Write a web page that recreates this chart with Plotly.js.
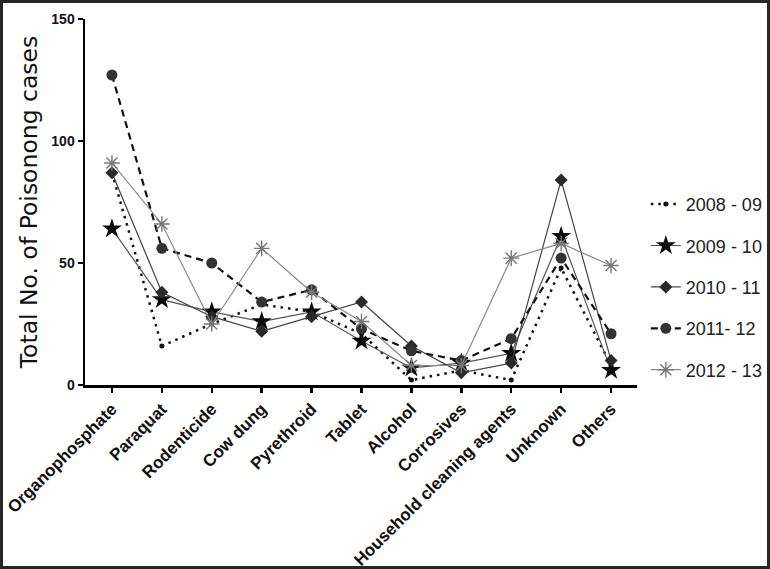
<!DOCTYPE html>
<html>
<head>
<meta charset="utf-8">
<script src="https://cdn.plot.ly/plotly-3.0.1.min.js"></script>
<style>
html,body{margin:0;padding:0;background:#fff;}
#chart{position:absolute;left:0;top:0;width:770px;height:569px;}
#frame{position:absolute;left:0;top:0;width:770px;height:569px;box-sizing:border-box;border:3px solid #262626;pointer-events:none;}
</style>
</head>
<body>
<div id="chart"></div>
<div id="frame"></div>
<script>
var categories = ['Organophosphate','Paraquat','Rodenticide','Cow dung','Pyrethroid','Tablet','Alcohol','Corrosives','Household cleaning agents','Unknown','Others'];
var seriesNames = ['2008 - 09','2009 - 10','2010 - 11','2011- 12','2012 - 13'];
var y2008_09 = [87,16,25,33,30,21,2,6,2,48,8];
var y2009_10 = [64,35,30,26,30,18,7,9,13,61,6];
var y2010_11 = [87,38,28,22,28,34,16,5,9,84,10];
var y2011_12 = [127,56,50,34,39,23,14,10,19,52,21];
var y2012_13 = [91,66,25,56,38,26,8,8,52,58,49];
var yTicks = [0,50,100,150];

var traces = [
  {name: seriesNames[0], y: y2008_09, legendgroup:'a',
   line:{color:'#111', width:2.5, dash:'2.5px,5px'},
   marker:{symbol:'circle', size:5, color:'#111'}},
  {name: seriesNames[1], y: y2009_10, legendgroup:'b',
   line:{color:'#555', width:1.2},
   marker:{symbol:'star', size:15, color:'#0a0a0a'}},
  {name: seriesNames[2], y: y2010_11, legendgroup:'c',
   line:{color:'#444', width:1.2},
   marker:{symbol:'diamond', size:10, color:'#2a2a2a'}},
  {name: seriesNames[3], y: y2011_12, legendgroup:'d',
   line:{color:'#111', width:2.2, dash:'7px,5px'},
   marker:{symbol:'circle', size:11, color:'#333'}},
  {name: seriesNames[4], y: y2012_13, legendgroup:'e',
   line:{color:'#888', width:1.2},
   marker:{symbol:'asterisk-open', size:13, color:'#777', line:{color:'#808080', width:1.4}}}
];
traces.forEach(function(t){ t.x = categories; t.type='scatter'; t.mode='lines+markers'; });

var layout = {
  width:770, height:569,
  margin:{l:85, r:133, t:19, b:184, autoexpand:false},
  paper_bgcolor:'#fff', plot_bgcolor:'#fff',
  showlegend:true,
  legend:{x:1.016, xanchor:'left', y:0.268, yanchor:'middle', tracegroupgap:15,
          font:{family:'Liberation Sans, Arial, sans-serif', size:18, color:'#222'},
          bgcolor:'rgba(0,0,0,0)'},
  xaxis:{type:'category', range:[-0.54,10.52], showline:true, linecolor:'#000', linewidth:2.5,
         ticks:'outside', ticklen:5, tickwidth:2.5, tickcolor:'#000', tickangle:-45,
         showgrid:false, zeroline:false, automargin:false,
         tickfont:{family:'Liberation Sans, Arial, sans-serif', size:17, color:'#111', weight:'bold'}},
  yaxis:{range:[0,150], tickvals:yTicks, ticktext:yTicks.map(String), showline:true, linecolor:'#000', linewidth:2.5,
         ticks:'outside', ticklen:5, tickwidth:2.5, tickcolor:'#000',
         showgrid:false, zeroline:false, automargin:false,
         tickfont:{family:'Liberation Sans, Arial, sans-serif', size:14, color:'#111', weight:'bold'},
         title:{text:'Total No. of Poisonong cases', standoff:7,
                font:{family:'DejaVu Sans, sans-serif', size:23.5, color:'#111'}}}
};
Plotly.newPlot('chart', traces, layout, {displayModeBar:false, staticPlot:true});
</script>
</body>
</html>
